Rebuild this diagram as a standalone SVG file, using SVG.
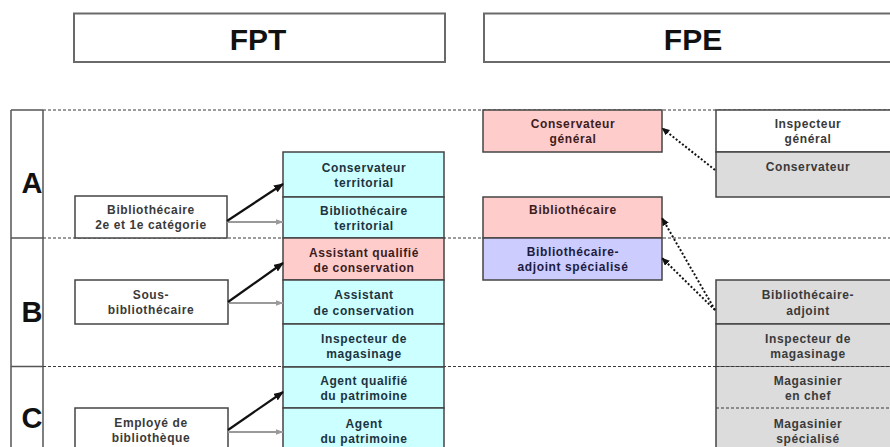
<svg xmlns="http://www.w3.org/2000/svg" width="890" height="447" viewBox="0 0 890 447">
  <style>
    .hdr { fill: #ffffff; stroke: #6a6a6a; stroke-width: 2; }
    .hdrtxt { font-family: "Liberation Sans", Arial, sans-serif; font-size: 30px; font-weight: bold; fill: #111; text-anchor: middle; }
    .cat { font-family: "Liberation Sans", Arial, sans-serif; font-size: 29px; font-weight: bold; fill: #111; text-anchor: middle; }
    .grid { stroke: #555; stroke-width: 1.5; fill: none; }
    .dash { stroke: #3a3a3a; stroke-width: 1.2; stroke-dasharray: 3 2; fill: none; }
    .box { stroke: #444; stroke-width: 1.5; }
    .white { fill: #ffffff; }
    .cyan { fill: #ccffff; }
    .pink { fill: #ffcccc; }
    .lav { fill: #ccccff; }
    .grey { fill: #dcdcdc; }
    .t { font-family: "Liberation Sans", Arial, sans-serif; font-size: 12px; font-weight: bold; letter-spacing: 0.6px; text-anchor: middle; }
    .tg { fill: #3a3a3a; }
    .tc { fill: #1c3340; }
    .tp { fill: #3d1c1c; }
    .tl { fill: #1c1c40; }
    .solidArrow { stroke: #111; stroke-width: 2.2; fill: none; }
    .greyArrow { stroke: #9a9a9a; stroke-width: 2; fill: none; }
    .dotArrow { stroke: #111; stroke-width: 2; stroke-dasharray: 2 2; fill: none; }
  </style>
  <defs>
    <marker id="headBlack" viewBox="0 0 10 8" refX="9" refY="4" markerWidth="10" markerHeight="8" markerUnits="userSpaceOnUse" orient="auto">
      <path d="M0,0 L10,4 L0,8 Z" fill="#111"/>
    </marker>
    <marker id="headGrey" viewBox="0 0 8 6" refX="7.5" refY="3" markerWidth="8" markerHeight="6" markerUnits="userSpaceOnUse" orient="auto">
      <path d="M0,0 L8,3 L0,6 Z" fill="#9a9a9a"/>
    </marker>
    <marker id="headDot" viewBox="0 0 8 7" refX="7.5" refY="3.5" markerWidth="8" markerHeight="7" markerUnits="userSpaceOnUse" orient="auto">
      <path d="M0,0 L8,3.5 L0,7 Z" fill="#111"/>
    </marker>
  </defs>

  <rect width="890" height="447" fill="#ffffff"/>

  <!-- column headers -->
  <g id="header-fpt">
    <rect class="hdr" x="74" y="13.5" width="371" height="48.5"/>
    <text class="hdrtxt" x="258" y="50">FPT</text>
  </g>
  <g id="header-fpe">
    <rect class="hdr" x="484" y="13.5" width="420" height="48.5"/>
    <text class="hdrtxt" x="693" y="50">FPE</text>
  </g>

  <!-- category grid -->
  <g id="grid">
    <line class="grid" x1="11" y1="110" x2="11" y2="447"/>
    <line class="grid" x1="43" y1="110" x2="43" y2="447"/>
    <line class="grid" x1="11" y1="110" x2="43" y2="110"/>
    <line class="grid" x1="11" y1="238" x2="43" y2="238"/>
    <line class="grid" x1="11" y1="366.5" x2="43" y2="366.5"/>
    <line class="dash" x1="43" y1="110" x2="890" y2="110"/>
    <line class="dash" x1="43" y1="238" x2="890" y2="238"/>
    <line class="dash" x1="43" y1="366.5" x2="890" y2="366.5"/>
    <text class="cat" x="32" y="193">A</text>
    <text class="cat" x="32" y="322">B</text>
    <text class="cat" x="32" y="428">C</text>
  </g>

  <!-- FPT: former grades -->
  <g id="bib-2e-1e">
    <rect class="box white" x="75" y="196" width="152" height="42"/>
    <text class="t tg" x="151" y="214">Bibliothécaire</text>
    <text class="t tg" x="151" y="229">2e et 1e catégorie</text>
  </g>
  <g id="sous-bib">
    <rect class="box white" x="75" y="280" width="153" height="44"/>
    <text class="t tg" x="151" y="299">Sous-</text>
    <text class="t tg" x="151" y="314">bibliothécaire</text>
  </g>
  <g id="employe-bib">
    <rect class="box white" x="75" y="408" width="153" height="50"/>
    <text class="t tg" x="151" y="427">Employé de</text>
    <text class="t tg" x="151" y="442">bibliothèque</text>
  </g>

  <!-- FPT: current grades -->
  <g id="conservateur-territorial">
    <rect class="box cyan" x="283" y="152" width="161" height="45"/>
    <text class="t tc" x="364" y="172">Conservateur</text>
    <text class="t tc" x="364" y="187">territorial</text>
  </g>
  <g id="bibliothecaire-territorial">
    <rect class="box cyan" x="283" y="197" width="161" height="41"/>
    <text class="t tc" x="364" y="215">Bibliothécaire</text>
    <text class="t tc" x="364" y="230">territorial</text>
  </g>
  <g id="assistant-qualifie">
    <rect class="box pink" x="283" y="238" width="161" height="42"/>
    <text class="t tp" x="364" y="256.5">Assistant qualifié</text>
    <text class="t tp" x="364" y="271.5">de conservation</text>
  </g>
  <g id="assistant-conservation">
    <rect class="box cyan" x="283" y="280" width="161" height="44"/>
    <text class="t tc" x="364" y="299">Assistant</text>
    <text class="t tc" x="364" y="315">de conservation</text>
  </g>
  <g id="inspecteur-magasinage-fpt">
    <rect class="box cyan" x="283" y="324" width="161" height="43"/>
    <text class="t tc" x="364" y="343">Inspecteur de</text>
    <text class="t tc" x="364" y="358">magasinage</text>
  </g>
  <g id="agent-qualifie">
    <rect class="box cyan" x="283" y="367" width="161" height="41"/>
    <text class="t tc" x="364" y="385">Agent qualifié</text>
    <text class="t tc" x="364" y="400">du patrimoine</text>
  </g>
  <g id="agent-patrimoine">
    <rect class="box cyan" x="283" y="408" width="161" height="50"/>
    <text class="t tc" x="364" y="428">Agent</text>
    <text class="t tc" x="364" y="443">du patrimoine</text>
  </g>

  <!-- FPE: current grades -->
  <g id="conservateur-general">
    <rect class="box pink" x="483" y="110" width="179" height="42"/>
    <text class="t tp" x="573" y="128">Conservateur</text>
    <text class="t tp" x="573" y="143">général</text>
  </g>
  <g id="bibliothecaire-fpe">
    <rect class="box pink" x="483" y="197" width="179" height="41"/>
    <text class="t tp" x="573" y="214">Bibliothécaire</text>
  </g>
  <g id="bib-adjoint-specialise">
    <rect class="box lav" x="483" y="238" width="179" height="42"/>
    <text class="t tl" x="573" y="256">Bibliothécaire-</text>
    <text class="t tl" x="573" y="271">adjoint spécialisé</text>
  </g>

  <!-- FPE: former grades -->
  <g id="inspecteur-general">
    <rect class="box white" x="716" y="110" width="190" height="42"/>
    <text class="t tg" x="808" y="128">Inspecteur</text>
    <text class="t tg" x="808" y="143">général</text>
  </g>
  <g id="conservateur-fpe">
    <rect class="box grey" x="716" y="152" width="190" height="45"/>
    <text class="t tg" x="808" y="171">Conservateur</text>
  </g>
  <g id="bib-adjoint">
    <rect class="box grey" x="716" y="280" width="190" height="44"/>
    <text class="t tg" x="808" y="299">Bibliothécaire-</text>
    <text class="t tg" x="808" y="315">adjoint</text>
  </g>
  <g id="inspecteur-magasinage-fpe">
    <rect class="box grey" x="716" y="324" width="190" height="43"/>
    <text class="t tg" x="808" y="343">Inspecteur de</text>
    <text class="t tg" x="808" y="358">magasinage</text>
  </g>
  <g id="magasinier-chef">
    <rect class="grey" x="716" y="367" width="190" height="41"/>
    <line class="box" x1="716" y1="367" x2="716" y2="408"/>
    <text class="t tg" x="808" y="385">Magasinier</text>
    <text class="t tg" x="808" y="400">en chef</text>
  </g>
  <g id="magasinier-specialise">
    <rect class="grey" x="716" y="408" width="190" height="50"/>
    <line class="box" x1="716" y1="408" x2="716" y2="458"/>
    <line class="dash" x1="716" y1="408" x2="890" y2="408"/>
    <text class="t tg" x="808" y="428">Magasinier</text>
    <text class="t tg" x="808" y="443">spécialisé</text>
  </g>
  <line class="dash" x1="716" y1="366.5" x2="890" y2="366.5"/>

  <!-- connectors -->
  <g id="connectors">
    <line class="greyArrow" x1="227" y1="222" x2="283" y2="222" marker-end="url(#headGrey)"/>
    <line class="solidArrow" x1="227" y1="221" x2="283" y2="184" marker-end="url(#headBlack)"/>
    <line class="greyArrow" x1="228" y1="303" x2="283" y2="303" marker-end="url(#headGrey)"/>
    <line class="solidArrow" x1="228" y1="302" x2="283" y2="263" marker-end="url(#headBlack)"/>
    <line class="greyArrow" x1="228" y1="432" x2="283" y2="432" marker-end="url(#headGrey)"/>
    <line class="solidArrow" x1="228" y1="430" x2="283" y2="392" marker-end="url(#headBlack)"/>
    <line class="dotArrow" x1="715" y1="170" x2="662" y2="128" marker-end="url(#headDot)"/>
    <line class="dotArrow" x1="715" y1="310" x2="662" y2="218" marker-end="url(#headDot)"/>
    <line class="dotArrow" x1="715" y1="310" x2="662" y2="258" marker-end="url(#headDot)"/>
  </g>
</svg>
